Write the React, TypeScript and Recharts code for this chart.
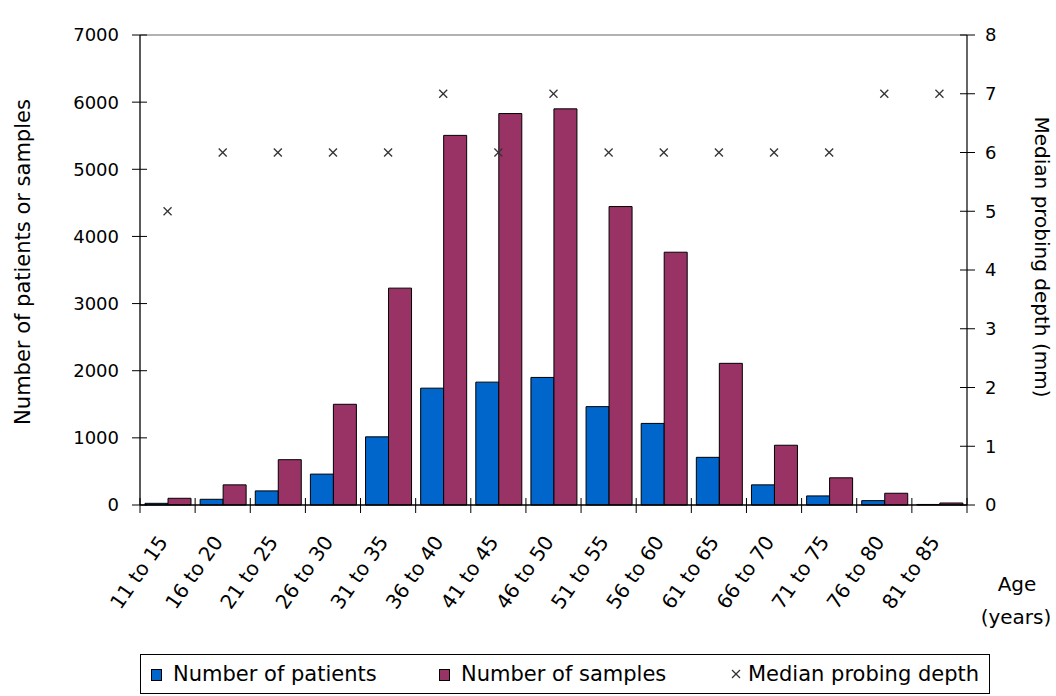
import { Bar, ComposedChart, Label, Legend, Line, ReferenceLine, XAxis, YAxis } from "recharts"

const FONT = "'DejaVu Sans', sans-serif"

const ageGroups = [
  "11 to 15",
  "16 to 20",
  "21 to 25",
  "26 to 30",
  "31 to 35",
  "36 to 40",
  "41 to 45",
  "46 to 50",
  "51 to 55",
  "56 to 60",
  "61 to 65",
  "66 to 70",
  "71 to 75",
  "76 to 80",
  "81 to 85",
]
const patients = [25, 85, 210, 460, 1015, 1740, 1830, 1900, 1465, 1215, 710, 300, 135, 65, 8]
const samples = [100, 300, 675, 1500, 3230, 5505, 5830, 5900, 4445, 3765, 2110, 890, 405, 175, 30]
const medianDepth = [5, 6, 6, 6, 6, 7, 6, 7, 6, 6, 6, 6, 6, 7, 7]

const countTicks = [0, 1000, 2000, 3000, 4000, 5000, 6000, 7000]
const depthTicks = [0, 1, 2, 3, 4, 5, 6, 7, 8]

const rows = ageGroups.map((age, i) => ({
  age,
  patients: patients[i],
  samples: samples[i],
  depth: medianDepth[i],
}))

// plot box: x 140..967, so each age band is about 55px wide
const BAND = (967 - 140) / ageGroups.length

function LeftTick({ x, y, payload }: any) {
  return (
    <g>
      <line x1={x - 8} x2={x + 7} y1={y} y2={y} stroke="#000" />
      <text x={x - 21} y={y} dy="0.36em" textAnchor="end" fontSize={18} fontFamily={FONT} fill="#000">
        {payload.value}
      </text>
    </g>
  )
}

function RightTick({ x, y, payload }: any) {
  return (
    <g>
      <line x1={x - 7} x2={x + 8} y1={y} y2={y} stroke="#000" />
      <text x={x + 18} y={y} dy="0.36em" textAnchor="start" fontSize={18} fontFamily={FONT} fill="#000">
        {payload.value}
      </text>
    </g>
  )
}

function AgeTick({ x, y, payload, index }: any) {
  const last = index === ageGroups.length - 1
  return (
    <g>
      <line x1={x - BAND / 2} x2={x - BAND / 2} y1={y - 7} y2={y + 8} stroke="#000" />
      {last && <line x1={x + BAND / 2} x2={x + BAND / 2} y1={y - 7} y2={y + 8} stroke="#000" />}
      <text
        x={0}
        y={0}
        textAnchor="end"
        fontSize={20}
        fontFamily={FONT}
        fill="#000"
        transform={`translate(${x + 1},${y + 37}) rotate(-55)`}
      >
        {payload.value}
      </text>
    </g>
  )
}

function Cross(props: any) {
  const { cx, cy, index } = props
  if (cx == null || cy == null) return <g key={index} />
  return (
    <g key={index}>
      <line x1={cx - 4} x2={cx + 4} y1={cy - 4} y2={cy + 4} stroke="#333" strokeWidth={1.3} />
      <line x1={cx - 4} x2={cx + 4} y1={cy + 4} y2={cy - 4} stroke="#333" strokeWidth={1.3} />
    </g>
  )
}

function LegendBox() {
  const text = { position: "absolute" as const, top: 5, fontSize: 21, fontFamily: FONT, color: "#000", lineHeight: "28px" }
  const swatch = { position: "absolute" as const, top: 14, width: 9, height: 10, border: "1px solid #000" }
  return (
    <div
      style={{
        position: "relative",
        width: 850,
        height: 40,
        boxSizing: "border-box",
        border: "1.5px solid #000",
        background: "#fff",
      }}
    >
      <div style={{ ...swatch, left: 10, background: "#0066CC" }} />
      <div style={{ ...text, left: 32 }}>Number of patients</div>
      <div style={{ ...swatch, left: 298, background: "#993366" }} />
      <div style={{ ...text, left: 320 }}>Number of samples</div>
      <svg style={{ position: "absolute", left: 590, top: 14 }} width={10} height={10}>
        <line x1={1} x2={9} y1={1} y2={9} stroke="#333" strokeWidth={1.2} />
        <line x1={1} x2={9} y1={9} y2={1} stroke="#333" strokeWidth={1.2} />
      </svg>
      <div style={{ ...text, left: 607 }}>Median probing depth</div>
    </div>
  )
}

export default function App() {
  return (
    <div style={{ position: "fixed", left: 0, top: 0, width: 1056, height: 696, background: "#fff" }}>
      <ComposedChart
        width={1056}
        height={696}
        data={rows}
        margin={{ top: 35, right: 0, bottom: 2, left: 0 }}
        barCategoryGap={5}
        barGap={0}
      >
        <XAxis
          dataKey="age"
          height={149}
          interval={0}
          tickSize={0}
          tickMargin={0}
          tickLine={false}
          axisLine={{ stroke: "#000", strokeWidth: 1.3 }}
          tick={<AgeTick />}
        >
          <Label
            content={() => (
              <g fontFamily={FONT} fontSize={20} fill="#000" textAnchor="middle">
                <text x={1017} y={591}>Age</text>
                <text x={1016} y={624}>(years)</text>
              </g>
            )}
          />
        </XAxis>
        <YAxis
          yAxisId="left"
          width={140}
          domain={[0, 7000]}
          ticks={countTicks}
          interval={0}
          tickSize={0}
          tickMargin={0}
          tickLine={false}
          axisLine={{ stroke: "#000", strokeWidth: 1.3 }}
          tick={<LeftTick />}
        >
          <Label
            content={() => (
              <text
                transform="translate(23,262) rotate(-90)"
                textAnchor="middle"
                dy="0.35em"
                fontFamily={FONT}
                fontSize={21}
                fill="#000"
              >
                Number of patients or samples
              </text>
            )}
          />
        </YAxis>
        <YAxis
          yAxisId="right"
          orientation="right"
          width={89}
          domain={[0, 8]}
          ticks={depthTicks}
          interval={0}
          tickSize={0}
          tickMargin={0}
          tickLine={false}
          axisLine={{ stroke: "#333", strokeWidth: 1.5 }}
          tick={<RightTick />}
        >
          <Label
            content={() => (
              <text
                transform="translate(1042,257) rotate(90)"
                textAnchor="middle"
                dy="0.35em"
                fontFamily={FONT}
                fontSize={20}
                fill="#000"
              >
                Median probing depth (mm)
              </text>
            )}
          />
        </YAxis>
        <ReferenceLine yAxisId="left" y={7000} stroke="#999" strokeWidth={1.3} />
        <Bar
          yAxisId="left"
          dataKey="patients"
          name="Number of patients"
          fill="#0066CC"
          stroke="#000"
          strokeWidth={1}
          isAnimationActive={false}
        />
        <Bar
          yAxisId="left"
          dataKey="samples"
          name="Number of samples"
          fill="#993366"
          stroke="#000"
          strokeWidth={1}
          isAnimationActive={false}
        />
        <Line
          yAxisId="right"
          dataKey="depth"
          name="Median probing depth"
          stroke="none"
          dot={Cross}
          activeDot={false}
          isAnimationActive={false}
        />
        <Legend
          verticalAlign="bottom"
          width={850}
          height={40}
          wrapperStyle={{ left: 140 }}
          content={() => <LegendBox />}
        />
      </ComposedChart>
    </div>
  )
}
